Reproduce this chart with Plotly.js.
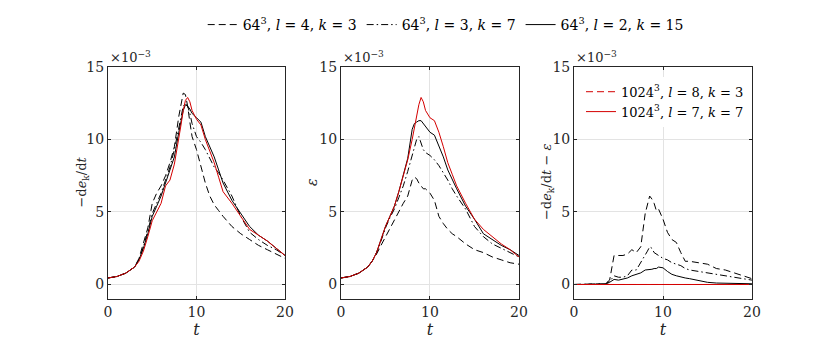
<!DOCTYPE html>
<html>
<head>
<meta charset="utf-8">
<script src="https://cdn.plot.ly/plotly-3.0.1.min.js"></script>
<style>
  body { margin: 0; background: #fff; }
  #plot { width: 830px; height: 357px; }
</style>
</head>
<body>
<div id="plot"></div>
<script>
// time samples (shared by all series)
const t = [0, 1, 2, 3, 3.5, 4, 4.5, 5, 5.5, 6, 6.5, 7, 7.5, 8, 8.25, 8.5, 8.75, 9, 9.25, 9.5,
  10, 10.5, 11, 11.5, 12, 12.5, 13, 14, 15, 16, 17, 18, 19, 20];

// values in units of 1e-3
// panel 1: -de_k/dt
const dedt_l4k3 = [0.45, 0.55, 0.78, 1.2, 1.8, 2.8, 3.9, 5.6, 6.3, 6.8, 7.5, 8.4, 9.5, 11.6, 12.5, 13.2, 13.1, 12.3, 11.2, 10.2,
  9.3, 8.2, 7.0, 6.1, 5.5, 5.1, 4.7, 4.0, 3.5, 3.1, 2.7, 2.4, 2.1, 1.8];
const dedt_l3k7 = [0.45, 0.55, 0.78, 1.2, 1.7, 2.6, 3.7, 4.9, 5.6, 6.3, 7.2, 8.1, 9.3, 10.9, 11.7, 12.3, 12.5, 12.3, 11.8, 11.1,
  10.2, 9.8, 9.3, 8.7, 8.1, 7.7, 7.2, 6.1, 4.7, 3.6, 3.1, 2.7, 2.4, 2.0];
const dedt_l2k15 = [0.45, 0.55, 0.78, 1.2, 1.7, 2.5, 3.5, 4.7, 5.4, 6.1, 7.0, 7.9, 8.8, 10.5, 11.3, 12.0, 12.4, 12.3, 12.1, 11.8,
  11.5, 11.2, 10.2, 9.5, 8.8, 7.9, 7.0, 5.8, 4.9, 4.0, 3.4, 3.0, 2.5, 2.0];
const dedt_ref = [0.45, 0.55, 0.78, 1.2, 1.6, 2.3, 3.3, 4.4, 5.0, 5.6, 6.8, 7.2, 8.3, 10.0, 11.0, 12.0, 12.7, 12.9, 12.6, 12.0,
  11.4, 11.0, 10.0, 9.2, 8.4, 7.4, 6.4, 5.6, 4.7, 3.8, 3.4, 3.0, 2.5, 2.0];

// panel 2: epsilon
const eps_l4k3 = [0.45, 0.55, 0.78, 1.2, 1.6, 2.1, 2.7, 3.3, 3.9, 4.5, 5.0, 5.6, 6.1, 7.2, 7.4, 7.3, 7.0, 6.8, 6.6, 6.6,
  6.3, 5.8, 4.7, 4.2, 3.8, 3.5, 3.3, 2.8, 2.4, 2.2, 1.9, 1.7, 1.5, 1.4];
const eps_l3k7 = [0.45, 0.55, 0.78, 1.2, 1.6, 2.2, 3.0, 3.9, 4.6, 5.2, 6.0, 6.8, 7.8, 8.9, 9.5, 10.0, 10.2, 9.8, 9.3, 9.1,
  8.9, 8.6, 8.2, 7.7, 7.2, 6.6, 6.1, 5.2, 4.0, 3.3, 2.8, 2.5, 2.2, 1.9];
const eps_l2k15 = [0.45, 0.55, 0.78, 1.2, 1.6, 2.2, 3.1, 4.0, 4.7, 5.4, 6.4, 7.5, 8.7, 10.7, 11.1, 11.2, 11.3, 11.3, 11.1, 10.9,
  10.5, 10.3, 9.6, 8.8, 7.9, 7.2, 6.6, 5.4, 4.5, 3.5, 3.1, 2.7, 2.4, 2.0];
const eps_ref = [0.45, 0.55, 0.78, 1.2, 1.6, 2.2, 3.1, 4.0, 4.7, 5.4, 6.4, 7.5, 8.6, 10.0, 10.8, 11.6, 12.4, 12.9, 12.6, 12.0,
  11.5, 11.3, 10.5, 9.5, 8.4, 7.6, 6.8, 5.6, 4.5, 3.8, 3.3, 2.8, 2.4, 1.9];

// panel 3: -de_k/dt - epsilon
const diff_l4k3 = [0, 0, 0, 0, 0.05, 0.3, 2.0, 2.0, 2.0, 2.1, 2.4, 2.2, 2.6, 4.9, 5.6, 6.1, 5.9, 5.6, 5.1, 5.2,
  4.5, 3.6, 3.1, 2.9, 2.2, 1.6, 1.6, 1.5, 1.4, 1.1, 1.0, 0.8, 0.6, 0.4];
const diff_l3k7 = [0, 0, 0, 0, 0.05, 0.2, 0.6, 0.5, 0.5, 0.6, 1.0, 1.0, 1.5, 2.0, 2.3, 2.6, 2.5, 2.2, 2.1, 2.0,
  1.8, 1.7, 1.5, 1.4, 1.3, 1.1, 1.0, 0.9, 0.8, 0.7, 0.6, 0.45, 0.4, 0.3];
const diff_l2k15 = [0, 0, 0, 0, 0.02, 0.15, 0.35, 0.3, 0.35, 0.45, 0.6, 0.7, 0.8, 1.0, 1.0, 1.0, 1.05, 1.1, 1.1, 1.2,
  1.15, 0.9, 0.7, 0.6, 0.5, 0.45, 0.4, 0.25, 0.15, 0.1, 0.1, 0.05, 0.05, 0.05];
const diff_ref_l8k3 = [0, 0, 0, 0, 0, 0, 0, 0, 0, 0, 0, 0, 0, 0, 0, 0, 0, 0, 0, 0,
  0, 0, 0, 0, 0, 0, 0, 0, 0, 0, 0, 0, 0, 0];
const diff_ref_l7k7 = [0, 0, 0, 0, 0, 0, 0, 0, 0, 0, 0, 0, 0, 0, 0, 0, 0, 0, 0, 0,
  0, 0, 0, 0, 0, 0, 0, 0, 0, 0, 0, 0, 0, 0];

const names = [
  "64<sup>3</sup>, <i>l</i> = 4, <i>k</i> = 3",
  "64<sup>3</sup>, <i>l</i> = 3, <i>k</i> = 7",
  "64<sup>3</sup>, <i>l</i> = 2, <i>k</i> = 15",
  "1024<sup>3</sup>, <i>l</i> = 8, <i>k</i> = 3",
  "1024<sup>3</sup>, <i>l</i> = 7, <i>k</i> = 7"
];

const red = "#d40000";
const dashed = "7px,4px";
const dashdot = "7px,3px,1.5px,3px";
const serif = "DejaVu Serif";
const axisColor = "#262626";

function line(y, ax, dash, color, name, show, legend) {
  return {
    x: t, y: y, xaxis: "x" + ax, yaxis: "y" + ax,
    type: "scatter", mode: "lines",
    name: name, showlegend: show, legend: legend || "legend",
    line: { color: color, width: 1, dash: dash }
  };
}

const traces = [
  line(dedt_l4k3, "", dashed, "black", names[0], true),
  line(dedt_l3k7, "", dashdot, "black", names[1], true),
  line(dedt_l2k15, "", "solid", "black", names[2], true),
  line(dedt_ref, "", "solid", red, names[4], false),

  line(eps_l4k3, "2", dashed, "black", names[0], false),
  line(eps_l3k7, "2", dashdot, "black", names[1], false),
  line(eps_l2k15, "2", "solid", "black", names[2], false),
  line(eps_ref, "2", "solid", red, names[4], false),

  line(diff_l4k3, "3", dashed, "black", names[0], false),
  line(diff_l3k7, "3", dashdot, "black", names[1], false),
  line(diff_l2k15, "3", "solid", "black", names[2], false),
  line(diff_ref_l8k3, "3", dashed, red, names[3], true, "legend2"),
  line(diff_ref_l7k7, "3", "solid", red, names[4], true, "legend2")
];

function xax(dom) {
  return {
    domain: dom, range: [0, 20], tickvals: [0, 10, 20],
    ticks: "inside", ticklen: 3, tickcolor: axisColor, mirror: "ticks",
    showline: true, linecolor: axisColor, linewidth: 1,
    showgrid: true, gridcolor: "#e3e3e3", zeroline: false,
    tickfont: { family: serif, size: 14, color: axisColor },
    title: { text: "<i>t</i>", font: { family: serif, size: 16, color: axisColor }, standoff: 2 }
  };
}
function yax(anchor) {
  return {
    domain: [0.1625, 0.8123], anchor: anchor, range: [-1, 15], tickvals: [0, 5, 10, 15],
    ticks: "inside", ticklen: 3, tickcolor: axisColor, mirror: "ticks",
    showline: true, linecolor: axisColor, linewidth: 1,
    showgrid: true, gridcolor: "#e3e3e3", zeroline: false,
    tickfont: { family: serif, size: 14, color: axisColor }
  };
}

const annFont = { family: serif, size: 13, color: axisColor };
const layout = {
  width: 830, height: 357,
  margin: { l: 0, r: 0, t: 0, b: 0 },
  paper_bgcolor: "white", plot_bgcolor: "white",
  font: { family: serif, color: "black" },
  xaxis: xax([0.1301, 0.3434]),
  xaxis2: xax([0.4108, 0.6253]),
  xaxis3: xax([0.6916, 0.9060]),
  yaxis: yax("x"),
  yaxis2: yax("x2"),
  yaxis3: yax("x3"),
  legend: {
    orientation: "h", x: 0.537, xanchor: "center", y: 0.93, yanchor: "middle",
    font: { family: serif, size: 14, color: "black" },
    bgcolor: "rgba(0,0,0,0)", itemwidth: 30, tracegroupgap: 0
  },
  legend2: {
    x: 0.700, xanchor: "left", y: 0.785, yanchor: "top",
    font: { family: serif, size: 13, color: "black" },
    bgcolor: "white", itemwidth: 30, tracegroupgap: 0
  },
  annotations: [
    { xref: "paper", yref: "paper", x: 0.1301, y: 0.812, xanchor: "left", yanchor: "bottom",
      text: "×10<sup>−3</sup>", showarrow: false, font: annFont },
    { xref: "paper", yref: "paper", x: 0.4108, y: 0.812, xanchor: "left", yanchor: "bottom",
      text: "×10<sup>−3</sup>", showarrow: false, font: annFont },
    { xref: "paper", yref: "paper", x: 0.6916, y: 0.812, xanchor: "left", yanchor: "bottom",
      text: "×10<sup>−3</sup>", showarrow: false, font: annFont },
    { xref: "paper", yref: "paper", x: 72 / 830, y: 0.49, textangle: -90,
      text: "−d<i>e</i><sub>k</sub>/d<i>t</i>", showarrow: false, font: { family: serif, size: 13, color: axisColor } },
    { xref: "paper", yref: "paper", x: 312 / 830, y: 0.49, textangle: -90,
      text: "<i>ε</i>", showarrow: false, font: { family: serif, size: 14, color: axisColor } },
    { xref: "paper", yref: "paper", x: 547 / 830, y: 0.49, textangle: -90,
      text: "−d<i>e</i><sub>k</sub>/d<i>t</i> − <i>ε</i>", showarrow: false, font: { family: serif, size: 13, color: axisColor } }
  ]
};

Plotly.newPlot("plot", traces, layout, { displayModeBar: false, staticPlot: true });
</script>
</body>
</html>
